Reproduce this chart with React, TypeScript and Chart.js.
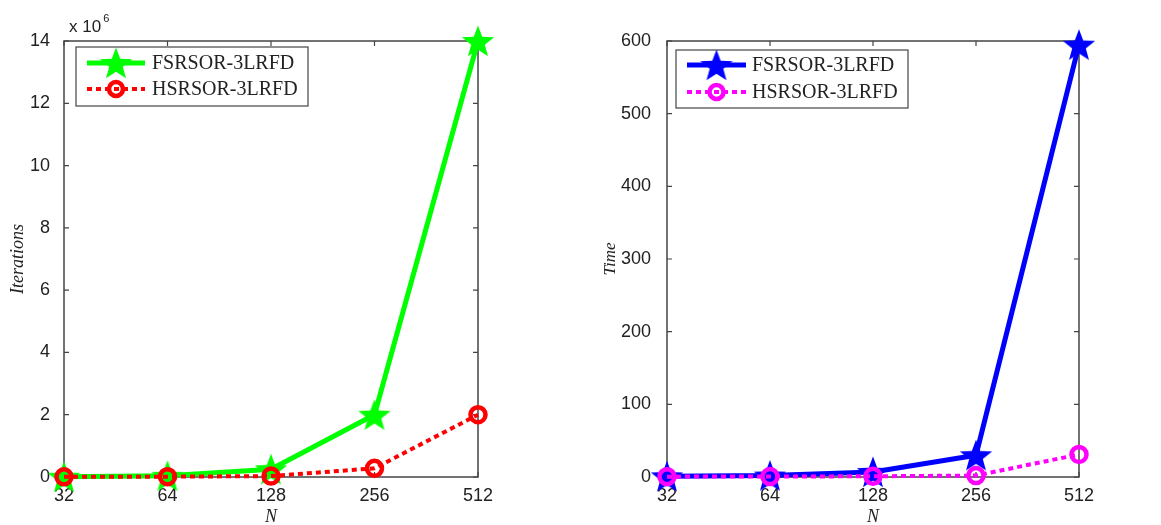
import React, { useEffect, useRef } from "react";
import { Chart, registerables } from "chart.js";

Chart.register(...registerables);

// ---- data ----
const N_LABELS = ["32", "64", "128", "256", "512"];
const SERIES_NAMES = ["FSRSOR-3LRFD", "HSRSOR-3LRFD"];
const ITER_FSR = [0.01e6, 0.04e6, 0.25e6, 2.0e6, 14.0e6];
const ITER_HSR = [0.005e6, 0.01e6, 0.03e6, 0.28e6, 2.0e6];
const TIME_FSR = [1, 2, 7, 30, 595];
const TIME_HSR = [0.5, 0.6, 1, 2, 31];
const ITER_MAX = 14e6;
const ITER_STEP = 2e6;
const TIME_MAX = 600;
const TIME_STEP = 100;

const TEXT = "#222";
const FRAME = "#444";

function makeStar(color: string, r: number): HTMLCanvasElement {
  const size = Math.ceil(r * 2 + 4);
  const c = document.createElement("canvas");
  c.width = size;
  c.height = size;
  const ctx = c.getContext("2d")!;
  ctx.translate(size / 2, size / 2 + r * 0.095);
  ctx.beginPath();
  for (let i = 0; i < 10; i++) {
    const rad = i % 2 === 0 ? r : r * 0.42;
    const a = -Math.PI / 2 + (i * Math.PI) / 5;
    const x = rad * Math.cos(a);
    const y = rad * Math.sin(a);
    if (i === 0) ctx.moveTo(x, y);
    else ctx.lineTo(x, y);
  }
  ctx.closePath();
  ctx.fillStyle = color;
  ctx.fill();
  return c;
}

type PanelSpec = {
  width: number;
  yWidth: number;
  padRight: number;
  tickPad: number;
  yTitle: string;
  yTitleSize: number;
  yTitlePad: number;
  fsr: number[];
  hsr: number[];
  max: number;
  step: number;
  scaleDiv: number;
  colorF: string;
  colorH: string;
  legend: { dx: number; dy: number; w: number; h: number; row1: number; row2: number; lx0: number; lx1: number; tx: number };
  exponent: boolean;
};

function buildConfig(p: PanelSpec): any {
  const star = makeStar(p.colorF, 17);

  const framePlugin = {
    id: "frame",
    beforeDatasetsDraw(chart: any) {
      const { ctx, chartArea: a, scales } = chart;
      ctx.save();
      ctx.strokeStyle = FRAME;
      ctx.lineWidth = 1.5;
      ctx.strokeRect(a.left, a.top, a.right - a.left, a.bottom - a.top);
      ctx.lineWidth = 1.2;
      const tl = 5;
      scales.y.ticks.forEach((t: any) => {
        const y = scales.y.getPixelForValue(t.value);
        ctx.beginPath();
        ctx.moveTo(a.left, y);
        ctx.lineTo(a.left + tl, y);
        ctx.moveTo(a.right, y);
        ctx.lineTo(a.right - tl, y);
        ctx.stroke();
      });
      scales.x.ticks.forEach((_t: any, i: number) => {
        const x = scales.x.getPixelForTick(i);
        ctx.beginPath();
        ctx.moveTo(x, a.bottom);
        ctx.lineTo(x, a.bottom - tl);
        ctx.moveTo(x, a.top);
        ctx.lineTo(x, a.top + tl);
        ctx.stroke();
      });
      ctx.restore();
    },
  };

  const legendPlugin = {
    id: "boxLegend",
    afterDraw(chart: any) {
      const { ctx, chartArea: a } = chart;
      const L = p.legend;
      ctx.save();
      ctx.fillStyle = "#fff";
      ctx.fillRect(a.left + L.dx, a.top + L.dy, L.w, L.h);
      ctx.strokeStyle = FRAME;
      ctx.lineWidth = 1.2;
      ctx.strokeRect(a.left + L.dx, a.top + L.dy, L.w, L.h);
      const x0 = a.left + L.lx0;
      const x1 = a.left + L.lx1;
      const xm = (x0 + x1) / 2;
      // row 1: solid + star
      let y = a.top + L.row1;
      ctx.strokeStyle = p.colorF;
      ctx.lineWidth = 5;
      ctx.beginPath();
      ctx.moveTo(x0, y);
      ctx.lineTo(x1, y);
      ctx.stroke();
      ctx.drawImage(star, xm - star.width / 2, y - star.height / 2);
      // row 2: dotted + circle
      y = a.top + L.row2;
      ctx.strokeStyle = p.colorH;
      ctx.lineWidth = 4;
      ctx.setLineDash([5, 4]);
      ctx.beginPath();
      ctx.moveTo(x0, y);
      ctx.lineTo(x1, y);
      ctx.stroke();
      ctx.setLineDash([]);
      ctx.lineWidth = 4.5;
      ctx.beginPath();
      ctx.arc(xm, y, 7, 0, Math.PI * 2);
      ctx.stroke();
      // text
      ctx.fillStyle = TEXT;
      ctx.font = "20px 'Liberation Serif'";
      ctx.textBaseline = "middle";
      ctx.textAlign = "left";
      ctx.fillText(SERIES_NAMES[0], a.left + L.tx, a.top + L.row1 + 1);
      ctx.fillText(SERIES_NAMES[1], a.left + L.tx, a.top + L.row2 + 1);
      ctx.restore();
    },
  };

  const exponentPlugin = {
    id: "exponent",
    afterDraw(chart: any) {
      if (!p.exponent) return;
      const { ctx, chartArea: a } = chart;
      ctx.save();
      ctx.fillStyle = TEXT;
      ctx.textBaseline = "alphabetic";
      ctx.textAlign = "left";
      ctx.font = "17px 'Liberation Sans'";
      const base = "x 10";
      ctx.fillText(base, a.left + 5, a.top - 9);
      const w = ctx.measureText(base).width;
      ctx.font = "11px 'Liberation Sans'";
      ctx.fillText("6", a.left + 5 + w + 2, a.top - 19);
      ctx.restore();
    },
  };

  return {
    type: "line",
    data: {
      labels: N_LABELS,
      datasets: [
        {
          label: SERIES_NAMES[1],
          data: p.hsr,
          borderColor: p.colorH,
          borderWidth: 4,
          borderDash: [5, 4],
          pointStyle: "circle",
          pointRadius: 7.5,
          pointBorderWidth: 4.5,
          pointBorderColor: p.colorH,
          pointBackgroundColor: "rgba(0,0,0,0)",
          tension: 0,
          clip: false,
          order: 0,
        },
        {
          label: SERIES_NAMES[0],
          data: p.fsr,
          borderColor: p.colorF,
          borderWidth: 5,
          pointStyle: star,
          pointRadius: 17,
          pointBackgroundColor: p.colorF,
          tension: 0,
          clip: false,
          order: 1,
        },
      ],
    },
    options: {
      animation: false,
      responsive: false,
      devicePixelRatio: 1,
      layout: { padding: { left: 0, top: 41, right: p.padRight, bottom: 0 } },
      plugins: { legend: { display: false }, tooltip: { enabled: false } },
      scales: {
        x: {
          type: "category",
          offset: false,
          grid: { display: false },
          border: { display: false },
          ticks: {
            color: TEXT,
            padding: 0,
            maxRotation: 0,
            autoSkip: false,
            font: { family: "'Liberation Sans'", size: 18 },
          },
          title: {
            display: true,
            text: "N",
            color: TEXT,
            padding: { top: 0, bottom: -3 },
            font: { family: "'Liberation Serif'", size: 18, style: "italic" },
          },
          afterFit(scale: any) {
            scale.height = 48;
          },
        },
        y: {
          min: 0,
          max: p.max,
          grid: { display: false },
          border: { display: false },
          ticks: {
            stepSize: p.step,
            color: TEXT,
            padding: p.tickPad,
            font: { family: "'Liberation Sans'", size: 18 },
            callback: (v: any) => String(Math.round((v as number) / p.scaleDiv)),
          },
          title: {
            display: true,
            text: p.yTitle,
            color: TEXT,
            padding: { top: p.yTitlePad, bottom: 0 },
            font: { family: "'Liberation Serif'", size: p.yTitleSize, style: "italic" },
          },
          afterFit(scale: any) {
            scale.width = p.yWidth;
          },
        },
      },
    },
    plugins: [framePlugin, legendPlugin, exponentPlugin],
  };
}

const LEFT: PanelSpec = {
  width: 580,
  yWidth: 64,
  padRight: 102,
  tickPad: 6,
  yTitle: "Iterations",
  yTitleSize: 18,
  yTitlePad: 7,
  fsr: ITER_FSR,
  hsr: ITER_HSR,
  max: ITER_MAX,
  step: ITER_STEP,
  scaleDiv: 1e6,
  colorF: "#00ff00",
  colorH: "#ff0000",
  legend: { dx: 12, dy: 6, w: 232, h: 59, row1: 22, row2: 48, lx0: 23, lx1: 81, tx: 88 },
  exponent: true,
};

const RIGHT: PanelSpec = {
  width: 581,
  yWidth: 87,
  padRight: 82,
  tickPad: 8,
  yTitle: "Time",
  yTitleSize: 17,
  yTitlePad: 20,
  fsr: TIME_FSR,
  hsr: TIME_HSR,
  max: TIME_MAX,
  step: TIME_STEP,
  scaleDiv: 1,
  colorF: "#0000ff",
  colorH: "#ff00ff",
  legend: { dx: 9, dy: 9, w: 232, h: 58, row1: 24, row2: 51, lx0: 20, lx1: 79, tx: 85 },
  exponent: false,
};

function Panel({ spec, left }: { spec: PanelSpec; left: number }) {
  const ref = useRef<HTMLCanvasElement>(null);
  useEffect(() => {
    const chart = new Chart(ref.current!, buildConfig(spec));
    return () => chart.destroy();
  }, []);
  return (
    <canvas
      ref={ref}
      width={spec.width}
      height={525}
      style={{ position: "absolute", left, top: 0, width: spec.width, height: 525 }}
    />
  );
}

export default function App() {
  return (
    <div style={{ position: "absolute", left: 0, top: 0, width: 1161, height: 525, background: "#fff" }}>
      <Panel spec={LEFT} left={0} />
      <Panel spec={RIGHT} left={580} />
    </div>
  );
}
